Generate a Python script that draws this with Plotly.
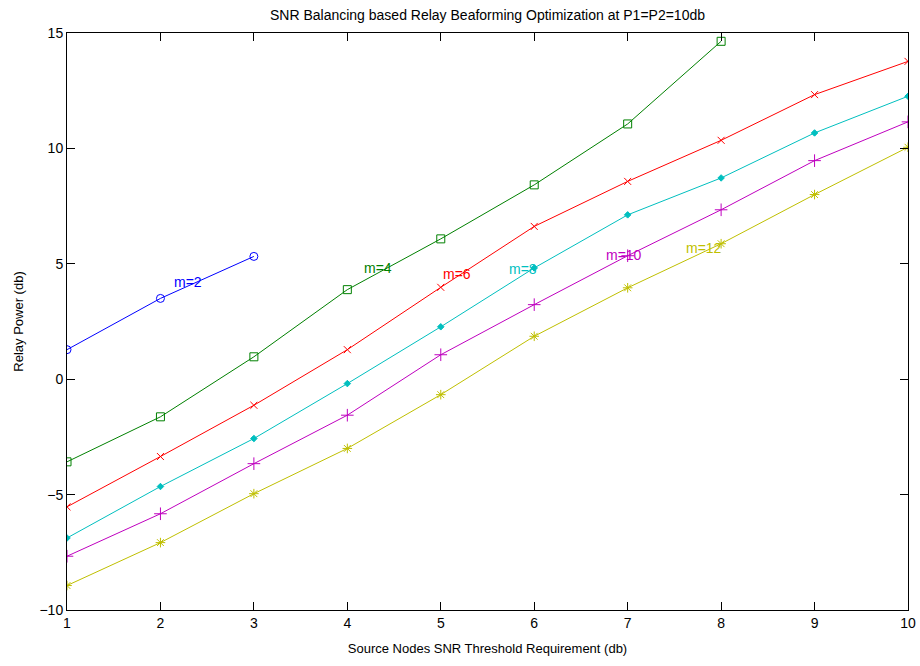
import plotly.graph_objects as go

x_vals = [1, 2, 3, 4, 5, 6, 7, 8, 9, 10]
m2 = [1.28, 3.5, 5.32]
m4 = [-3.58, -1.63, 0.97, 3.88, 6.08, 8.42, 11.06, 14.64]
m6 = [-5.53, -3.35, -1.13, 1.28, 3.98, 6.62, 8.57, 10.35, 12.33, 13.77]
m8 = [-6.88, -4.65, -2.57, -0.19, 2.27, 4.82, 7.12, 8.72, 10.67, 12.26]
m10 = [-7.67, -5.83, -3.66, -1.56, 1.06, 3.23, 5.35, 7.34, 9.47, 11.15]
m12 = [-8.94, -7.08, -4.96, -3.0, -0.67, 1.86, 3.96, 5.87, 8.0, 10.05]

series = [
    ("m=2", m2, "rgb(0,0,255)", "circle-open", 8),
    ("m=4", m4, "rgb(0,128,0)", "square-open", 8),
    ("m=6", m6, "rgb(255,0,0)", "x-thin-open", 7),
    ("m=8", m8, "rgb(0,191,191)", "diamond", 5),
    ("m=10", m10, "rgb(191,0,191)", "cross-thin-open", 9),
    ("m=12", m12, "rgb(191,191,0)", "asterisk-open", 8),
]

label_x = [2.29, 4.33, 5.17, 5.88, 6.96, 7.82]
label_y = [4.23, 4.83, 4.57, 4.79, 5.39, 5.7]

fig = go.Figure()
for (name, ys, col, sym, sz) in series:
    fig.add_trace(go.Scatter(
        x=x_vals[:len(ys)], y=ys, mode="lines+markers", name=name,
        line=dict(color=col, width=1),
        marker=dict(symbol=sym, size=sz, color=col, line=dict(color=col, width=1)),
        showlegend=False,
    ))

for (name, ys, col, sym, sz), lx, ly in zip(series, label_x, label_y):
    fig.add_annotation(x=lx, y=ly, text=name, showarrow=False,
                       font=dict(color=col, size=14, family="Liberation Sans"),
                       xanchor="center", yanchor="middle")

axis_common = dict(
    showgrid=False, zeroline=False, showline=True, linecolor="black", linewidth=1,
    mirror="ticks", ticks="inside", ticklen=8, tickcolor="black", automargin=False,
    tickfont=dict(size=14, color="black", family="Liberation Sans"),
)

fig.update_layout(
    width=920, height=666,
    margin=dict(l=67, r=12, t=33, b=56, autoexpand=False),
    paper_bgcolor="white", plot_bgcolor="white",
    title=dict(text="SNR Balancing based Relay Beaforming Optimization at P1=P2=10db",
               x=0.5, xref="paper", xanchor="center", y=0.978, yanchor="middle",
               font=dict(size=14, color="black", family="Liberation Sans")),
    font=dict(family="Liberation Sans", color="black"),
    xaxis=dict(range=[1, 10], tickvals=x_vals, **axis_common,
               title=dict(text="Source Nodes SNR Threshold Requirement (db)",
                          font=dict(size=13), standoff=14)),
    yaxis=dict(range=[-10, 15], tickvals=[-10, -5, 0, 5, 10, 15], **axis_common,
               title=dict(text="Relay Power (db)", font=dict(size=13), standoff=12)),
)

fig.write_html("out.html")
